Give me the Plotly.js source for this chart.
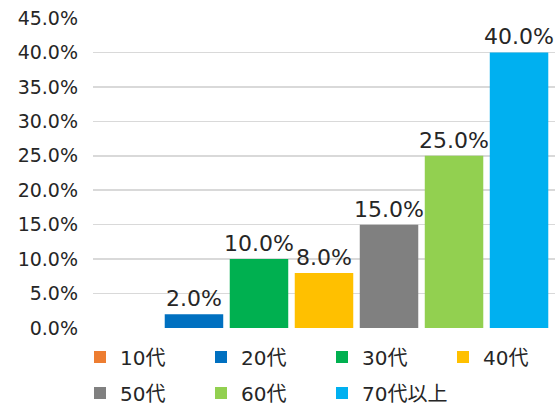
<!DOCTYPE html>
<html><head><meta charset="utf-8">
<script src="https://cdn.plot.ly/plotly-3.0.1.min.js"></script>
<style>html,body{margin:0;padding:0;background:#fff}#c{width:555px;height:406px}</style>
</head><body><div id="c"></div>
<script>
const seriesNames = ['10代','20代','30代','40代','50代','60代','70代以上'];
const seriesValues = [0, 2.0, 10.0, 8.0, 15.0, 25.0, 40.0];
const seriesColors = ['#ED7D31','#0070C0','#00B050','#FFC000','#808080','#92D050','#00B0F0'];
const category = [''];
const yTickVals = [0,5,10,15,20,25,30,35,40,45];
const yTickText = ['0.0%','5.0%','10.0%','15.0%','20.0%','25.0%','30.0%','35.0%','40.0%','45.0%'];

const FONT = 'DejaVu Sans, "Noto Sans CJK JP", sans-serif';
const TXT = '#262626';
const traces = seriesNames.map((n,i)=>{
  const t = {
    type:'bar', name:n, x:category, y:[seriesValues[i]],
    marker:{color:seriesColors[i]},
    text:[seriesValues[i]===0?'':seriesValues[i].toFixed(1)+'%'],
    textposition:'outside', cliponaxis:false, constraintext:'none',
    textfont:{family:FONT,size:22,color:TXT},
    legend: i<4 ? 'legend' : 'legend2',
    hoverinfo:'skip'
  };
  if(i===3) t.legendwidth = 56;
  if(i===6) t.legendwidth = 110;
  return t;
});
const legBase = {orientation:'h', xref:'container', x:80/555, xanchor:'left', yref:'container', yanchor:'middle',
  entrywidth:76, entrywidthmode:'pixels', font:{family:FONT,size:20,color:TXT}, itemwidth:30, bgcolor:'rgba(0,0,0,0)'};
const layout = {
  width:555, height:406,
  margin:{l:93,r:0,t:18,b:78,autoexpand:false},
  paper_bgcolor:'#fff', plot_bgcolor:'#fff',
  barmode:'group', bargap:0.015, bargroupgap:0.1,
  font:{family:FONT,size:19,color:TXT},
  xaxis:{showticklabels:false, showgrid:false, zeroline:false, showline:false, ticks:''},
  yaxis:{range:[0,45], tickvals:yTickVals, ticktext:yTickText, showgrid:true, gridcolor:'#d9d9d9', gridwidth:1.5,
         zeroline:false, showline:false, ticks:'', ticklabelstandoff:14, tickfont:{family:FONT,size:19,color:TXT}},
  showlegend:true,
  legend:Object.assign({}, legBase, {y:1-357/406}),
  legend2:Object.assign({}, legBase, {y:1-393/406}),
};
Plotly.newPlot('c', traces, layout, {displayModeBar:false, staticPlot:true});
</script></body></html>
